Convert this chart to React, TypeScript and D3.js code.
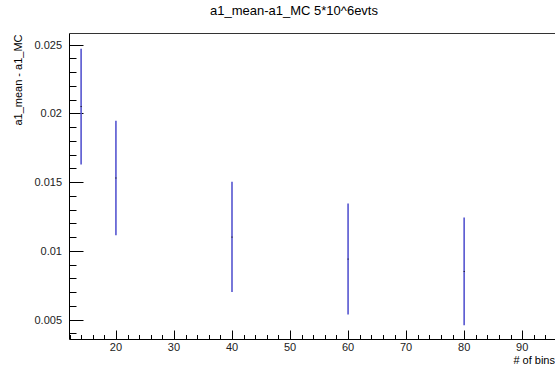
import React from "react";
import * as d3 from "d3";

const binCounts = [14, 20, 40, 60, 80];
const meanDiff = [0.0205, 0.0153, 0.011, 0.0094, 0.0085];
const errUp = [0.02471, 0.01947, 0.01503, 0.01344, 0.01243];
const errDown = [0.01628, 0.01113, 0.007, 0.00536, 0.00459];
const xMajorTicks = [20, 30, 40, 50, 60, 70, 80, 90];
const yMajorTicks = [0.005, 0.01, 0.015, 0.02, 0.025];
const yTickLabels = ["0.005", "0.01", "0.015", "0.02", "0.025"];

const W = 555;
const H = 378;
const left = 69.5;
const top = 33.5;
const bottom = 339.5;
const right = 557;

export default function App() {
  const x = d3.scaleLinear().domain([12, 96]).range([left, right]);
  const y = d3.scaleLinear().domain([0.00355, 0.025813]).range([bottom, top]);
  const xMinor = d3.range(12, 97, 2).filter((v) => v % 10 !== 0);
  const yMinor = d3.range(4, 26, 1).map((v) => v / 1000).filter((v) => Math.round(v * 1000) % 5 !== 0);
  const font = "Liberation Sans, Arial, Helvetica, sans-serif";
  return (
    <svg width={W} height={H} style={{ position: "absolute", left: 0, top: 0, background: "#fff" }} fontFamily={font}>
      <rect x={0} y={0} width={W} height={H} fill="#fff" />
      <text x={294} y={15} textAnchor="middle" fontSize={13} fill="#000">a1_mean-a1_MC 5*10^6evts</text>
      {/* frame */}
      <line x1={left} x2={W} y1={top} y2={top} stroke="#333" strokeWidth={1} />
      <line x1={left} x2={left} y1={top} y2={bottom} stroke="#000" strokeWidth={1} />
      <line x1={left} x2={W} y1={bottom} y2={bottom} stroke="#000" strokeWidth={1} />
      {/* x ticks */}
      {xMajorTicks.map((t) => (
        <g key={"xm" + t}>
          <line x1={Math.round(x(t)) + 0.5} x2={Math.round(x(t)) + 0.5} y1={bottom} y2={bottom - 9} stroke="#000" />
          <text x={x(t)} y={351} textAnchor="middle" fontSize={11} fill="#222">{t}</text>
        </g>
      ))}
      {xMinor.map((t) => (
        <line key={"xn" + t} x1={Math.round(x(t)) + 0.5} x2={Math.round(x(t)) + 0.5} y1={bottom} y2={bottom - 4.5} stroke="#000" />
      ))}
      {/* y ticks */}
      {yMajorTicks.map((t, i) => (
        <g key={"ym" + t}>
          <line x1={left} x2={left + 14} y1={Math.round(y(t)) + 0.5} y2={Math.round(y(t)) + 0.5} stroke="#000" />
          <text x={62} y={y(t) + 4} textAnchor="end" fontSize={11} fill="#222">{yTickLabels[i]}</text>
        </g>
      ))}
      {yMinor.map((t) => (
        <line key={"yn" + t} x1={left} x2={left + 7} y1={Math.round(y(t)) + 0.5} y2={Math.round(y(t)) + 0.5} stroke="#000" />
      ))}
      {/* axis titles */}
      <text x={W} y={364} textAnchor="end" fontSize={11} fill="#000"># of bins</text>
      <text transform={`translate(22,${top + 1}) rotate(-90)`} textAnchor="end" fontSize={11} fill="#000">a1_mean - a1_MC</text>
      {/* error bars */}
      {binCounts.map((b, i) => (
        <g key={"e" + b}>
          <line x1={x(b)} x2={x(b)} y1={y(errUp[i])} y2={y(errDown[i])} stroke="#5656d0" strokeWidth={1.6} />
          <rect x={x(b) - 0.5} y={y(meanDiff[i]) - 0.5} width={1} height={1} fill="#000" />
        </g>
      ))}
    </svg>
  );
}
